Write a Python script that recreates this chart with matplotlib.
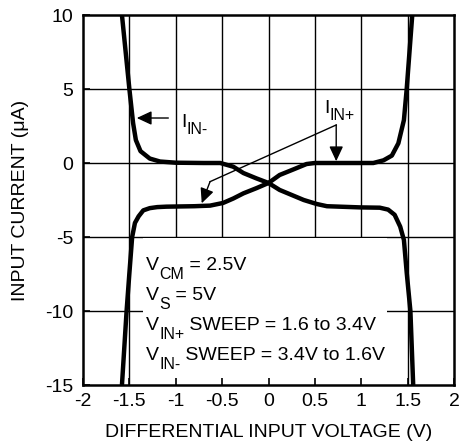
import matplotlib
matplotlib.use('Agg')
import matplotlib.pyplot as plt
from matplotlib.patches import Rectangle

plt.rcParams['font.family'] = ['Liberation Sans', 'DejaVu Sans']

# I_IN+ : rises from bottom-left, plateau -3, crosses to 0, rises at right
vdiff_inp = [-1.58, -1.53, -1.50, -1.47, -1.44, -1.40, -1.35, -1.28, -1.20, -1.10, -0.80,
             -0.63, -0.49, -0.38, -0.27, -0.13, 0.00, 0.12, 0.27, 0.41, 0.50, 0.80,
             1.13, 1.24, 1.33, 1.40, 1.46, 1.49, 1.52, 1.55]
iin_pos = [-15.0, -10.0, -7.45, -5.0, -4.05, -3.6, -3.2, -3.05, -2.98, -2.95, -2.92,
           -2.88, -2.7, -2.4, -2.05, -1.7, -1.35, -0.81, -0.43, -0.07, 0.0, 0.0,
           0.0, 0.18, 0.5, 1.33, 2.9, 5.0, 7.5, 10.0]

# I_IN- : falls from top-left, plateau 0, crosses to -3, falls at right
vdiff_inn = [-1.58, -1.54, -1.50, -1.46, -1.43, -1.38, -1.28, -1.17, -1.00, -0.70,
             -0.52, -0.38, -0.27, -0.13, 0.00, 0.12, 0.38, 0.52, 0.63, 0.99,
             1.20, 1.29, 1.36, 1.42, 1.46, 1.49, 1.53, 1.56]
iin_neg = [10.0, 7.5, 5.0, 2.7, 1.55, 0.8, 0.3, 0.1, 0.02, 0.0,
           0.0, -0.25, -0.68, -1.04, -1.35, -1.82, -2.5, -2.77, -2.92, -3.0,
           -3.02, -3.15, -3.5, -4.3, -5.2, -7.4, -10.0, -15.0]

xticks = [-2, -1.5, -1, -0.5, 0, 0.5, 1, 1.5, 2]
xtick_labels = ['-2', '-1.5', '-1', '-0.5', '0', '0.5', '1', '1.5', '2']
yticks = [-15, -10, -5, 0, 5, 10]
ytick_labels = ['-15', '-10', '-5', '0', '5', '10']

FS = 14

fig = plt.figure(figsize=(4.6, 4.46), dpi=100)
ax = fig.add_axes([83/460, 61/446, 371/460, 370/446])
ax.set_xlim(-2, 2)
ax.set_ylim(-15, 10)

for xv in xticks[1:-1]:
    ax.axvline(xv, color='black', lw=1.0, zorder=0.8)
for yv in yticks[1:-1]:
    ax.axhline(yv, color='black', lw=1.0, zorder=0.8)

ax.add_patch(Rectangle((-1.353, -15), 1.278 + 1.353, 10.0 - 0.05,
                       facecolor='white', edgecolor='none', zorder=1))

ax.plot(vdiff_inp, iin_pos, color='black', lw=3.2, zorder=2, solid_capstyle='butt')
ax.plot(vdiff_inn, iin_neg, color='black', lw=3.2, zorder=2, solid_capstyle='butt')

ax.set_xticks(xticks)
ax.set_xticklabels(xtick_labels, fontsize=FS)
ax.set_yticks(yticks)
ax.set_yticklabels(ytick_labels, fontsize=FS)
ax.tick_params(axis='x', direction='in', length=5, width=1.2, pad=6)
ax.tick_params(axis='y', direction='in', length=5, width=1.2, pad=7)
for s in ax.spines.values():
    s.set_linewidth(1.8)

ax.set_xlabel('DIFFERENTIAL INPUT VOLTAGE (V)', fontsize=FS)
ax.xaxis.set_label_coords(0.5, -0.105)
ax.set_ylabel('INPUT CURRENT (\u03bcA)', fontsize=FS)
ax.yaxis.set_label_coords(-0.145, 0.5)


def rich(x, y, parts, coords='data'):
    tr = ax.transData if coords == 'data' else ax.transAxes
    t0 = ax.text(x, y, parts[0][0], fontsize=parts[0][2], va='baseline',
                 transform=tr, zorder=3)
    prev = t0
    for s, dy, size in parts[1:]:
        prev = ax.annotate(s, xy=(1, 0), xycoords=(prev, t0), xytext=(0, dy),
                           textcoords='offset points', va='bottom', fontsize=size,
                           zorder=3, annotation_clip=False)
    return t0


SUB = 11.5
DROP = -5.5
MAIN = 14
rich(-1.32, -7.23, [('V', 0, MAIN), ('CM', DROP, SUB), (' = 2.5V', 0, MAIN)])
rich(-1.32, -9.26, [('V', 0, MAIN), ('S', DROP, SUB), (' = 5V', 0, MAIN)])
rich(-1.32, -11.28, [('V', 0, MAIN), ('IN+', DROP, SUB), (' SWEEP = 1.6 to 3.4V', 0, MAIN)])
rich(-1.32, -13.31, [('V', 0, MAIN), ('IN-', DROP, SUB), (' SWEEP = 3.4V to 1.6V', 0, MAIN)])

rich(-0.94, 2.43, [('I', 0, MAIN), ('IN-', -4.5, SUB)])
rich(0.60, 3.38, [('I', 0, MAIN), ('IN+', -4.5, SUB)])

aprops = dict(arrowstyle='-|>,head_length=0.9,head_width=0.42', mutation_scale=10,
              color='black', lw=1.0, shrinkA=0, shrinkB=0)
ax.annotate('', xy=(-1.42, 3.04), xytext=(-1.08, 3.04), arrowprops=aprops, zorder=3)
ax.annotate('', xy=(0.73, 0.12), xytext=(0.73, 2.57), arrowprops=aprops, zorder=3)
ax.plot([0.73, -0.63], [2.57, -1.26], color='black', lw=1.0, zorder=3)
ax.annotate('', xy=(-0.72, -2.72), xytext=(-0.63, -1.26), arrowprops=aprops, zorder=3)

fig.savefig('out.png', dpi=100)
